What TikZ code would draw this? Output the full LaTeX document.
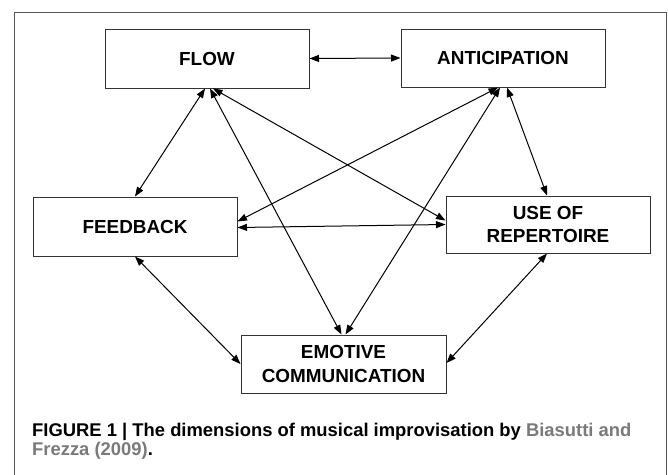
\documentclass[tikz,border=0pt]{standalone}
\usepackage{fontspec}
\setmainfont{Liberation Sans}
\usetikzlibrary{arrows.meta}
\definecolor{framegray}{HTML}{555555}
\definecolor{boxgray}{HTML}{333333}
\definecolor{citegray}{HTML}{7A7A7A}
\begin{document}
\begin{tikzpicture}[x=1pt,y=-1pt,
  dimbox/.style={draw=boxgray,line width=1pt,minimum width=204pt,minimum height=58pt,
    align=center,font=\bfseries\fontsize{18.9}{23.5}\selectfont,inner sep=0pt},
  link/.style={line width=1pt,{Triangle[length=9.5pt,width=7pt]}-{Triangle[length=9.5pt,width=7pt]}},
  captext/.style={anchor=base west,inner sep=0pt,font=\bfseries\fontsize{18.4}{19}\selectfont}]
\useasboundingbox (0,0) rectangle (668,474);
\fill[white] (0,0) rectangle (668,474);
\draw[framegray,line width=1pt] (14,12) rectangle (666.5,490);

\node[dimbox,minimum height=59pt] (flow) at (207,58.5) {FLOW};
\node[dimbox] (antic) at (503,58) {ANTICIPATION};
\node[dimbox,minimum height=59pt] (feed) at (135,226.5) {FEEDBACK};
\node[dimbox,minimum height=57pt] (use) at (548,224.5) {USE OF\\REPERTOIRE};
\node[dimbox,minimum width=205pt] (emo) at (343.5,364) {EMOTIVE\\COMMUNICATION};

\draw[link] (flow.east) -- (antic.west);
\draw[link] ([xshift=-2pt]flow.south) -- (feed.north);
\draw[link] ([xshift=3pt]flow.south) -- ([xshift=-2pt]emo.north);
\draw[link] ([xshift=6pt]flow.south) -- ([yshift=4pt]use.west);
\draw[link] ([xshift=-5pt]antic.south) -- ([yshift=5pt]feed.east);
\draw[link] ([yshift=-1pt]feed.east) -- (use.west);
\draw[link] ([xshift=-3pt]antic.south) -- ([xshift=2pt]emo.north);
\draw[link] ([xshift=4pt]antic.south) -- ([xshift=-1pt]use.north);
\draw[link] (feed.south) -- (emo.west);
\draw[link] ([xshift=-1pt]use.south) -- ([yshift=1pt]emo.east);

\node[captext] (cap1) at (32,436) {FIGURE 1 | The dimensions of musical improvisation by \textcolor{citegray}{Biasutti and}};
\node[captext] (cap2) at (32,455) {\textcolor{citegray}{Frezza (2009)}.};
\end{tikzpicture}
\end{document}
